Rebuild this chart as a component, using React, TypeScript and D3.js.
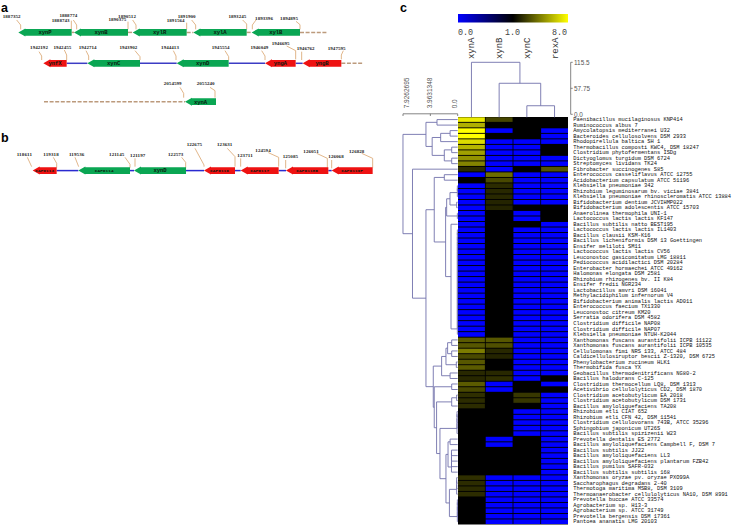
import * as d3 from "d3";
import { useEffect, useRef } from "react";

const width = 736;
const height = 525;

// heatmap
const columns = ["xynA", "xynB", "xynC", "rexA"];
const barTicks = [0, 1, 8];
const organisms = [
  "Paenibacillus mucilaginosus KNP414",
  "Ruminococcus albus 7",
  "Amycolatopsis mediterranei U32",
  "Bacteroides cellulosolvens DSM 2933",
  "Rhodopirellula baltica SH 1",
  "Thermobacillus composti KWC4, DSM 18247",
  "Clostridium phytofermentans ISDg",
  "Dictyoglomus turgidum DSM 6724",
  "Streptomyces lividans TK24",
  "Fibrobacter succinogenes S85",
  "Enterococcus casseliflavus ATCC 12755",
  "Acidobacterium capsulatum ATCC 51196",
  "Klebsiella pneumoniae 342",
  "Rhizobium leguminosarum bv. viciae 3841",
  "Klebsiella pneumoniae rhinoscleromatis ATCC 13884",
  "Bifidobacterium dentium JCVIHMP022",
  "Bifidobacterium adolescentis ATCC 15703",
  "Anaerolinea thermophila UNI-1",
  "Lactococcus lactis lactis KF147",
  "Bacillus subtilis natto BEST195",
  "Lactococcus lactis lactis IL1403",
  "Bacillus clausii KSM-K16",
  "Bacillus licheniformis DSM 13 Goettingen",
  "Ensifer meliloti SM11",
  "Lactococcus lactis lactis CV56",
  "Leuconostoc gasicomitatum LMG 18811",
  "Pediococcus acidilactici DSM 20284",
  "Enterobacter hormaechei ATCC 49162",
  "Halomonas elongata DSM 2581",
  "Rhizobium rhizogenes bv. II K84",
  "Ensifer fredii NGR234",
  "Lactobacillus amvri DSM 16041",
  "Methylacidiphilum infernorum V4",
  "Bifidobacterium animalis lactis AD011",
  "Enterococcus faecium TX1330",
  "Leuconostoc citreum KM20",
  "Serratia odorifera DSM 4582",
  "Clostridium difficile NAP08",
  "Clostridium difficile NAP07",
  "Klebsiella pneumoniae NTUH-K2044",
  "Xanthomonas fuscans aurantifolii ICPB 11122",
  "Xanthomonas fuscans aurantifolii ICPB 10535",
  "Cellulomonas fimi NRS 133, ATCC 484",
  "Caldicellulosiruptor bescii Z-1320, DSM 6725",
  "Phenylobacterium zucineum HLK1",
  "Thermobifida fusca YX",
  "Geobacillus thermodenitrificans NG80-2",
  "Bacillus halodurans C-125",
  "Clostridium thermocellum LQ8, DSM 1313",
  "Acetivibrio cellulolyticus CD2, DSM 1870",
  "Clostridium acetobutylicum EA 2018",
  "Clostridium acetobutylicum DSM 1731",
  "Bacillus amyloliquefaciens TA208",
  "Rhizobium etli CIAT 652",
  "Rhizobium etli CFN 42, DSM 11541",
  "Clostridium cellulovorans 743B, ATCC 35296",
  "Sphingobium japonicum UT26S",
  "Bacillus subtilis spizizenii W23",
  "Prevotella dentalis ES 2772",
  "Bacillus amyloliquefaciens Campbell F, DSM 7",
  "Bacillus subtilis JJ22",
  "Bacillus amyloliquefaciens LL3",
  "Bacillus amyloliquefaciens plantarum FZB42",
  "Bacillus pumilus SAFR-032",
  "Bacillus subtilis subtilis 168",
  "Xanthomonas oryzae pv. oryzae PXO99A",
  "Saccharophagus degradans 2-40",
  "Thermotoga maritima MSB8, DSM 3109",
  "Thermoanaerobacter cellulolyticus NA10, DSM 8991",
  "Prevotella buccae ATCC 33574",
  "Agrobacterium sp. H13-3",
  "Agrobacterium sp. ATCC 31749",
  "Prevotella bergensis DSM 17361",
  "Pantoea ananatis LMG 20103",
];

const xynA = [
  7.4, 5.8, 8, 8, 7, 6, 5.4, 5, 4.6, 2.2, 0, 1, 0, 0, 0, 0, 0, 0, 0, 0, 0, 0, 0, 0, 0, 0, 0, 0, 0, 0, 0, 0, 0, 0, 0, 0,
  0, 0, 0, 0, 3.5, 3.4, 4.4, 3, 3.4, 3.5, 2.1, 2.1, 3.5, 3, 2.3, 2.2, 2.2, 1, 1, 1, 1, 1, 1, 1, 1, 1, 1, 1, 1, 2.3, 2.2,
  2.2, 2.2, 1, 1, 1, 1, 1,
];
const xynB = [
  2.9, 1, 0, 1, 0, 0, 0, 0, 0, 0, 4, 3, 2.2, 2.1, 2.1, 2, 2, 1, 1, 1, 1, 1, 1, 1, 1, 1, 1, 1, 1, 1, 1, 1, 1, 1, 1, 1, 1,
  1, 1, 1, 3.4, 3.2, 2.1, 2, 1, 1, 2.1, 2.3, 0, 0, 1, 1, 1, 1, 1, 1, 1, 1, 0, 0, 1, 1, 1, 1, 1, 0, 0, 0, 0, 0, 0, 0, 0,
  0,
];
const xynC = [
  1, 1, 1, 1, 0, 0, 0, 0, 0, 1, 0, 0, 0, 0, 0, 0, 1, 0, 0, 1, 0, 0, 0, 0, 0, 0, 0, 0, 0, 0, 0, 0, 0, 0, 0, 0, 0, 0, 0, 0,
  0, 0, 0, 0, 0, 0, 0, 0, 1, 1, 2.5, 2.5, 1, 0, 0, 0, 0, 0, 1, 1, 1, 1, 1, 1, 1, 0, 0, 0, 0, 0, 0, 0, 0, 0,
];
const rexA = [
  1, 1, 0, 0, 0, 1, 1, 0, 0, 3.4, 0, 0, 0, 0, 0, 0, 1, 1, 1, 0, 0, 0, 0, 0, 0, 0, 0, 0, 0, 0, 0, 0, 0, 0, 0, 0, 0, 0, 0,
  0, 0, 0, 0, 0, 0, 0, 0, 1, 0, 1, 0, 0, 0, 0, 0, 0, 0, 0, 0, 0, 0, 0, 0, 0, 0, 0, 0, 0, 0, 0, 0, 0, 0, 0,
];
const matrix = [xynA, xynB, xynC, rexA];

type Tree = { h: number; kids?: Tree[]; row?: number; y?: number };
const n = (h: number, ...kids: (number | Tree)[]): Tree => ({
  h,
  kids: kids.map((k) => (typeof k === "number" ? { h: 0, row: k } : k)),
});
// rows that join one by one at almost the same height
const ladder = (from: number, to: number, h: number) => {
  let t = n(h, from, from + 1);
  for (let r = from + 2; r <= to; r++) t = n(h, t, r);
  return t;
};

const rowTree = n(
  7.93,
  n(
    4.6,
    n(3.0, 1, 2),
    n(3.7, n(2.47, n(1.1, 3, 4), 5), n(1.94, n(0.87, 6, 7), n(0.87, 8, 9)))
  ),
  n(
    6.55,
    10,
    n(
      4.6,
      n(
        3.4,
        n(1.94, 11, 12),
        n(
          1.75,
          n(1.6, n(1.12, ladder(13, 15, 0.05), n(0.15, 16, 17)), n(0.05, 18, 19)),
          n(0.97, 20, ladder(21, 40, 0.05))
        )
      ),
      n(
        3.54,
        n(2.33, n(1.7, n(1.46, n(0.87, 41, 42), n(0.87, 43, 44)), n(0.2, 45, 46)), n(1.1, 47, 48)),
        n(
          3.4,
          n(0.87, 49, 50),
          n(
            3.06,
            n(0.87, n(0.15, 51, 52), 53),
            n(
              2.57,
              ladder(54, 58, 0.1),
              n(
                1.7,
                n(1.4, n(1.1, 59, 60), ladder(61, 65, 0.9)),
                n(1.2, ladder(66, 69, 0.15), ladder(70, 74, 0.05))
              )
            )
          )
        )
      )
    )
  )
);
const columnTree = n(115.5, 1, n(68.9, 2, n(19, 3, 4)));
const rowAxisTicks = [7.9262695, 3.9631348, 0];
const columnAxisTicks = [115.5, 57.75, 0];

// gene maps: positions are along the drawn map, which is not to genomic scale
type Gene = [string, number, number, string];
const green = "#0aa653";
const red = "#ee1212";
const genesA1: Gene[] = [
  ["xynP", 55, 215, green],
  ["xynB", 222, 384, green],
  ["xylR", 398, 560, green],
  ["xylA", 580, 740, green],
  ["xylB", 755, 900, green],
];
const genesA2: Gene[] = [
  ["ynfX", 130, 200, red],
  ["xynC", 262, 420, green],
  ["xynD", 530, 686, green],
  ["yngA", 795, 887, red],
  ["yngB", 908, 1024, red],
];
const genesA3: Gene[] = [["xynA", 555, 648, green]];
const genesB: Gene[] = [
  ["CAP0113", 98, 170, red],
  ["CAP0114", 235, 390, green],
  ["xynD", 402, 558, green],
  ["CAP0116", 612, 705, red],
  ["CAP0117", 722, 836, red],
  ["CAP0118B", 858, 985, red],
  ["CAP0119F", 995, 1118, red],
];
// label, text centre, then the bent leader line
type Tag = [string, number, number, [number, number][]];
const tagsA: Tag[] = [
  ["1887352", 35, 48, [[50, 60], [62, 75], [62, 88]]],
  ["1888743", 182, 61, [[214, 62], [214, 88]]],
  ["1888774", 205, 47, [[220, 60], [230, 75], [230, 88]]],
  ["1890375", 352, 59, [[384, 65], [384, 88]]],
  ["1890512", 381, 48, [[398, 60], [408, 75], [408, 88]]],
  ["1891564", 527, 61, [[560, 68], [560, 88]]],
  ["1891900", 560, 48, [[575, 60], [587, 75], [587, 88]]],
  ["1893245", 712, 48, [[728, 60], [740, 72], [740, 88]]],
  ["1893396", 792, 56, [[768, 60], [757, 75], [757, 88]]],
  ["1894895", 867, 56, [[888, 64], [900, 74], [900, 88]]],
  ["1942192", 117, 141, [[117, 155], [125, 168], [125, 180]]],
  ["1942455", 187, 141, [[193, 150], [200, 165], [200, 180]]],
  ["1942714", 263, 141, [[258, 152], [266, 168], [266, 180]]],
  ["1943902", 385, 141, [[405, 152], [420, 170], [420, 180]]],
  ["1944413", 510, 141, [[520, 152], [528, 168], [528, 180]]],
  ["1945554", 662, 141, [[675, 152], [686, 170], [686, 180]]],
  ["1946049", 778, 141, [[785, 152], [795, 168], [795, 180]]],
  ["1946695", 842, 130, [[860, 138], [887, 152], [887, 178]]],
  ["1946762", 917, 145, [[905, 155], [905, 180]]],
  ["1947595", 1010, 145, [[1030, 152], [1024, 165], [1024, 178]]],
  ["2054599", 518, 250, [[540, 262], [551, 280], [551, 293]]],
  ["2055240", 617, 250, [[630, 262], [645, 272], [645, 293]]],
];
const tagsB: Tag[] = [
  ["118611", 73, 87, [[82, 97], [95, 125]]],
  ["119318", 153, 87, [[160, 97], [170, 115], [170, 128]]],
  ["119536", 230, 87, [[225, 97], [236, 125]]],
  ["121145", 350, 87, [[375, 97], [390, 118], [390, 128]]],
  ["121197", 413, 91, [[405, 100], [405, 125]]],
  ["122573", 527, 87, [[545, 97], [557, 112], [557, 130]]],
  ["122675", 583, 59, [[585, 70], [612, 120], [612, 125]]],
  ["123631", 674, 59, [[682, 70], [705, 95], [705, 125]]],
  ["123711", 735, 91, [[722, 100], [722, 125]]],
  ["124594", 789, 75, [[805, 83], [836, 97], [836, 125]]],
  ["125085", 871, 95, [[857, 105], [857, 130]]],
  ["126051", 933, 78, [[950, 85], [982, 100], [982, 128]]],
  ["126068", 1008, 95, [[995, 105], [995, 130]]],
  ["126828", 1070, 78, [[1085, 85], [1118, 100], [1118, 128]]],
];

const App = () => {
  const ref = useRef<SVGSVGElement | null>(null);

  useEffect(() => {
    const svg = d3.select(ref.current);
    svg.selectAll("*").remove();
    const treeColor = "#7272ab";
    const axisColor = "#666";
    const brown = "#bc9a7c";
    const mono = "'Liberation Mono', monospace";
    const sans = "'Liberation Sans', sans-serif";

    // ---- panel letters
    svg
      .selectAll(".letter")
      .data([["a", 1, 11.5], ["b", 1, 142], ["c", 400, 11.5]] as [string, number, number][])
      .join("text")
      .attr("x", (d) => d[1])
      .attr("y", (d) => d[2])
      .attr("font-family", sans)
      .attr("font-weight", "bold")
      .attr("font-size", 12.5)
      .text((d) => d[0]);

    // ---- gene maps
    const mapX = d3.scaleLinear().domain([0, 1140]).range([0, 380]);
    const mapY = d3.scaleLinear().domain([0, 1140]).range([0, 380]);
    const leader = d3
      .line<[number, number]>()
      .x((d) => mapX(d[0]))
      .y((d) => mapY(d[1]));

    const drawTags = (tags: Tag[], yOffset: number) => {
      const g = svg.append("g").attr("transform", `translate(0,${yOffset})`);
      g.selectAll("path")
        .data(tags)
        .join("path")
        .attr("d", (d) => leader(d[3]))
        .attr("fill", "none")
        .attr("stroke", "#d9a36c")
        .attr("stroke-width", 0.8);
      g.selectAll("text")
        .data(tags)
        .join("text")
        .attr("x", (d) => mapX(d[1]))
        .attr("y", (d) => mapY(d[2]) + 1.6)
        .attr("text-anchor", "middle")
        .attr("font-family", "'Liberation Serif', serif")
        .attr("font-weight", "bold")
        .attr("font-size", 5)
        .attr("textLength", (d) => d[0].length * 2.55)
        .attr("fill", "#222")
        .text((d) => d[0]);
    };

    const drawGenes = (genes: Gene[], y: number, linkColor: string, from: number | null, to: number | null) => {
      const g = svg.append("g");
      const sorted = genes.slice().sort((a, b) => a[1] - b[1]);
      // connecting line between genes
      d3.pairs(sorted).forEach(([a, b]) => {
        g.append("line")
          .attr("x1", mapX(a[2]))
          .attr("x2", mapX(b[1]))
          .attr("y1", y)
          .attr("y2", y)
          .attr("stroke", linkColor)
          .attr("stroke-width", 1.5)
          .attr("stroke-dasharray", linkColor === brown ? "4,1.6" : null);
      });
      // dashed run past the end of the cluster
      const dashed = (x1: number, x2: number) =>
        g
          .append("line")
          .attr("x1", mapX(x1))
          .attr("x2", mapX(x2))
          .attr("y1", y)
          .attr("y2", y)
          .attr("stroke", brown)
          .attr("stroke-width", 1.5)
          .attr("stroke-dasharray", "4,1.6");
      if (to !== null) dashed(sorted[sorted.length - 1][2], to);
      if (from !== null) dashed(from, sorted[0][1]);

      g.selectAll("path")
        .data(genes)
        .join("path")
        .attr("d", (d) => {
          const x0 = mapX(d[1]);
          const x1 = mapX(d[2]);
          const p = d3.path();
          p.moveTo(x0, y);
          p.lineTo(x0 + 7, y - 4);
          p.lineTo(x0 + 7, y - 3.4);
          p.lineTo(x1, y - 3.4);
          p.lineTo(x1, y + 3.4);
          p.lineTo(x0 + 7, y + 3.4);
          p.lineTo(x0 + 7, y + 4);
          p.closePath();
          return p.toString();
        })
        .attr("fill", (d) => d[3]);
      g.selectAll("text")
        .data(genes)
        .join("text")
        .attr("x", (d) => (mapX(d[1]) + mapX(d[2])) / 2)
        .attr("y", y + 1.8)
        .attr("text-anchor", "middle")
        .attr("font-family", mono)
        .attr("font-weight", "bold")
        .attr("font-size", (d) => (d[0].length > 4 ? 4.4 : 5.6))
        .attr("textLength", (d) => d[0].length * (d[0].length > 4 ? 2.7 : 3.3))
        .attr("fill", "#0a1a10")
        .text((d) => d[0]);
    };

    drawTags(tagsA, 0);
    drawGenes(genesA1, 32.4, brown, null, 980);
    drawGenes(genesA2, 63.3, "#3c3cc4", null, 1090);
    drawGenes(genesA3, 101.7, brown, 132, null);
    drawTags(tagsB, 125);
    drawGenes(genesB, 170.6, "#2a2ad0", null, null);

    // ---- heatmap
    const x = d3.scaleBand<number>().domain(d3.range(4)).range([458, 568]).paddingInner(0.03);
    const y = d3
      .scaleBand<number>()
      .domain(d3.range(organisms.length))
      .range([117.3, 524])
      .paddingInner(0.17);
    const color = d3.scaleLinear<string>().domain(barTicks).range(["#0000ff", "#000000", "#ffff00"]);

    svg.append("rect").attr("x", 458).attr("y", 117).attr("width", 110).attr("height", 407.5).attr("fill", "#000");
    matrix.forEach((values, c) => {
      svg
        .append("g")
        .selectAll("rect")
        .data(values)
        .join("rect")
        .attr("x", x(c)!)
        .attr("y", (_, r) => y(r)!)
        .attr("width", x.bandwidth())
        .attr("height", y.bandwidth())
        .attr("fill", (d) => color(d));
    });

    svg
      .append("g")
      .selectAll("text")
      .data(organisms)
      .join("text")
      .attr("x", 573.3)
      .attr("y", (_, r) => y(r)! + y.bandwidth() / 2 + 1.6)
      .attr("font-family", mono)
      .attr("font-size", 5.4)
      .attr("textLength", (d) => d.length * 3.22)
      .attr("fill", "#111")
      .text((d) => d);

    // ---- colour bar
    const gradient = svg
      .append("defs")
      .append("linearGradient")
      .attr("id", "bar");
    [0, 0.5, 1].forEach((o, i) => {
      gradient
        .append("stop")
        .attr("offset", o)
        .attr("stop-color", color(barTicks[i]));
    });
    svg.append("rect").attr("x", 458).attr("y", 14).attr("width", 110).attr("height", 8.5).attr("fill", "url(#bar)");
    const barX = d3.scaleLinear().domain([0, 2]).range([465.5, 559.5]);
    svg
      .append("g")
      .selectAll("text")
      .data(barTicks)
      .join("text")
      .attr("x", (_, i) => barX(i))
      .attr("y", 35)
      .attr("text-anchor", "middle")
      .attr("font-family", mono)
      .attr("font-size", 8.4)
      .attr("textLength", 15)
      .attr("fill", "#444")
      .text((d) => d3.format(".1f")(d));

    // column names
    svg
      .append("g")
      .selectAll("text")
      .data(columns)
      .join("text")
      .attr(
        "transform",
        (_, i) => `translate(${x(i)! + x.bandwidth() / 2 + 3},59) rotate(-90)`
      )
      .attr("font-family", mono)
      .attr("font-size", 9)
      .attr("textLength", 21.5)
      .attr("fill", "#333")
      .text((d) => d);

    // ---- row dendrogram
    const rowH = d3.scaleLinear().domain([0, 7.9262695]).range([457.7, 403]);
    const rowRoot = d3.hierarchy(rowTree, (d) => d.kids);
    rowRoot.eachAfter((node) => {
      if (node.children) {
        node.data.y = (node.children[0].data.y! + node.children[node.children.length - 1].data.y!) / 2;
      } else {
        node.data.y = y(node.data.row! - 1)! + y.bandwidth() / 2;
      }
    });
    const rowPath = d3.path();
    rowRoot.each((node) => {
      const nx = rowH(node.data.h);
      if (node.children) {
        const first = node.children[0].data.y!;
        const last = node.children[node.children.length - 1].data.y!;
        rowPath.moveTo(nx, first);
        rowPath.lineTo(nx, last);
      }
      if (node.parent) {
        rowPath.moveTo(rowH(node.parent.data.h), node.data.y!);
        rowPath.lineTo(nx, node.data.y!);
      }
    });
    svg
      .append("path")
      .attr("d", rowPath.toString())
      .attr("fill", "none")
      .attr("stroke", treeColor)
      .attr("stroke-width", 0.9);

    // ---- column dendrogram
    const colH = d3.scaleLinear().domain([0, 115.5]).range([114.3, 62.3]);
    const colCenter = (c: number) => x(c - 1)! + x.bandwidth() / 2;
    const colRoot = d3.hierarchy(columnTree, (d) => d.kids);
    colRoot.eachAfter((node) => {
      node.data.y = node.children
        ? (node.children[0].data.y! + node.children[1].data.y!) / 2
        : colCenter(node.data.row!);
    });
    const colPath = d3.path();
    colRoot.each((node) => {
      const ny = node.children ? colH(node.data.h) : 117.3;
      if (node.children) {
        colPath.moveTo(node.children[0].data.y!, ny);
        colPath.lineTo(node.children[1].data.y!, ny);
      }
      if (node.parent) {
        colPath.moveTo(node.data.y!, colH(node.parent.data.h));
        colPath.lineTo(node.data.y!, ny);
      }
    });
    svg
      .append("path")
      .attr("d", colPath.toString())
      .attr("fill", "none")
      .attr("stroke", treeColor)
      .attr("stroke-width", 0.9);

    // ---- dendrogram axes
    const rowAxis = svg.append("g").attr("transform", "translate(0,113.8)");
    rowAxis
      .append("line")
      .attr("x1", rowH(rowAxisTicks[0]))
      .attr("x2", rowH(0))
      .attr("stroke", axisColor)
      .attr("stroke-width", 0.8);
    rowAxisTicks.forEach((t) => {
      rowAxis
        .append("line")
        .attr("x1", rowH(t))
        .attr("x2", rowH(t))
        .attr("y2", 2.2)
        .attr("stroke", axisColor)
        .attr("stroke-width", 0.8);
      rowAxis
        .append("text")
        .attr("transform", `translate(${rowH(t) + (t === 0 ? -0.5 : t > 5 ? 6 : 1.5)},-5.5) rotate(-90)`)
        .attr("font-family", sans)
        .attr("font-size", 6.5)
        .attr("fill", "#555")
        .text(t === 0 ? "0.0" : String(t));
    });

    const colAxis = svg.append("g");
    colAxis
      .append("line")
      .attr("x1", 570.7)
      .attr("x2", 570.7)
      .attr("y1", colH(115.5))
      .attr("y2", colH(0))
      .attr("stroke", axisColor)
      .attr("stroke-width", 0.8);
    columnAxisTicks.forEach((t) => {
      colAxis
        .append("line")
        .attr("x1", 570.7)
        .attr("x2", 572.7)
        .attr("y1", colH(t))
        .attr("y2", colH(t))
        .attr("stroke", axisColor)
        .attr("stroke-width", 0.8);
      colAxis
        .append("text")
        .attr("x", 574)
        .attr("y", colH(t) + 2.2)
        .attr("font-family", sans)
        .attr("font-size", 6.4)
        .attr("fill", "#555")
        .text(t === 0 ? "0.0" : String(t));
    });
  }, []);

  return (
    <svg
      ref={ref}
      width={width}
      height={height}
      style={{ position: "absolute", left: 0, top: 0, background: "#fff" }}
    />
  );
};

export default App;
